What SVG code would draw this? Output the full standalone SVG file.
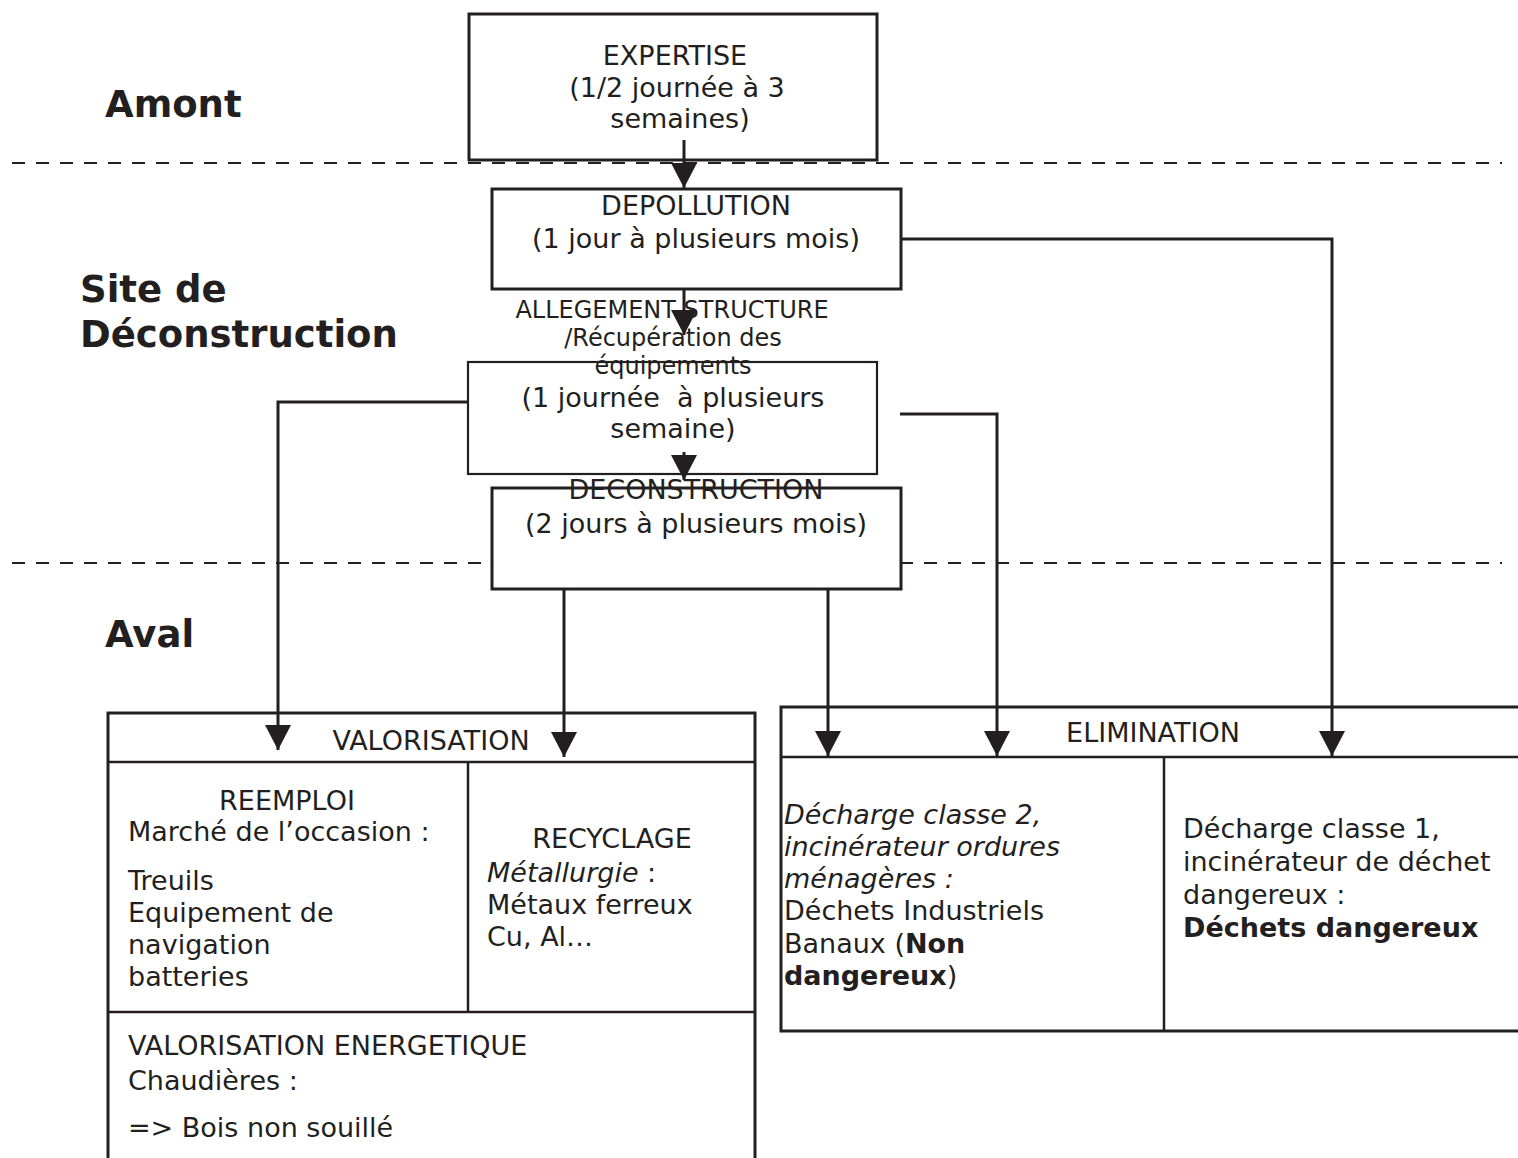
<svg xmlns="http://www.w3.org/2000/svg" width="1518" height="1158" viewBox="0 0 1518 1158">
  <style>
    text { font-family: "DejaVu Sans", Verdana, sans-serif; fill: #231f20; }
    .t { font-size: 27px; }
    .s { font-size: 24px; }
    .zone { font-size: 37px; font-weight: bold; }
    .c { text-anchor: middle; }
    .b { font-weight: bold; }
    .i { font-style: italic; }
    .box { fill: #ffffff; stroke: #231f20; stroke-width: 3; }
    .thin { stroke-width: 2.2; }
    .rule { fill: none; stroke: #231f20; stroke-width: 2.5; }
    .sep { fill: none; stroke: #231f20; stroke-width: 2; stroke-dasharray: 13 11; }
    .link { fill: none; stroke: #231f20; stroke-width: 3; marker-end: url(#head); }
  </style>
  <defs>
    <marker id="head" markerUnits="userSpaceOnUse" markerWidth="26" markerHeight="26" refX="25" refY="13" orient="auto" viewBox="0 0 26 26">
      <path d="M0,0 L25,13 L0,26 Z" fill="#231f20"/>
    </marker>
  </defs>

  <rect width="1518" height="1158" fill="#ffffff"/>

  <!-- zone separators and zone labels -->
  <g id="zones">
    <line class="sep" x1="12" y1="163" x2="1502" y2="163"/>
    <line class="sep" x1="12" y1="563" x2="1502" y2="563"/>
    <text class="zone" x="105" y="117">Amont</text>
    <text class="zone" x="80" y="302">Site de</text>
    <text class="zone" x="80" y="347">Déconstruction</text>
    <text class="zone" x="105" y="647">Aval</text>
  </g>

  <g id="expertise">
    <rect class="box" x="469" y="14" width="408" height="146"/>
    <text class="t c" x="675" y="65">EXPERTISE</text>
    <text class="t c" x="677" y="97">(1/2 journée à 3</text>
    <text class="t c" x="680" y="128">semaines)</text>
  </g>

  <g id="depollution">
    <rect class="box" x="492" y="189" width="409" height="100"/>
    <text class="t c" x="696" y="215">DEPOLLUTION</text>
    <text class="t c" x="696" y="248">(1 jour à plusieurs mois)</text>
  </g>

  <g id="allegement">
    <rect class="box thin" x="468" y="362" width="409" height="112"/>
    <text class="s c" x="672" y="318">ALLEGEMENT STRUCTURE</text>
    <text class="s c" x="673" y="346">/Récupération des</text>
    <text class="s c" x="673" y="374">équipements</text>
    <text class="t c" x="673" y="407" xml:space="preserve">(1 journée  à plusieurs</text>
    <text class="t c" x="673" y="438">semaine)</text>
  </g>

  <g id="deconstruction">
    <rect class="box" x="492" y="488" width="409" height="101"/>
    <text class="t c" x="696" y="499">DECONSTRUCTION</text>
    <text class="t c" x="696" y="533">(2 jours à plusieurs mois)</text>
  </g>

  <g id="valorisation">
    <rect class="box" x="108" y="713" width="647" height="470"/>
    <line class="rule" x1="108" y1="762" x2="755" y2="762"/>
    <line class="rule" x1="468" y1="762" x2="468" y2="1012"/>
    <line class="rule" x1="108" y1="1012" x2="755" y2="1012"/>
    <text class="t c" x="431" y="750">VALORISATION</text>
    <text class="t c" x="287" y="810">REEMPLOI</text>
    <text class="t" x="128" y="841">Marché de l’occasion :</text>
    <text class="t" x="128" y="890">Treuils</text>
    <text class="t" x="128" y="922">Equipement de</text>
    <text class="t" x="128" y="954">navigation</text>
    <text class="t" x="128" y="986">batteries</text>
    <text class="t c" x="612" y="848">RECYCLAGE</text>
    <text class="t" x="487" y="882"><tspan class="i">Métallurgie</tspan> :</text>
    <text class="t" x="487" y="914">Métaux ferreux</text>
    <text class="t" x="487" y="946">Cu, Al…</text>
    <text class="t" x="128" y="1055">VALORISATION ENERGETIQUE</text>
    <text class="t" x="128" y="1090">Chaudières :</text>
    <text class="t" x="128" y="1137">=&gt; Bois non souillé</text>
  </g>

  <g id="elimination">
    <rect class="box" x="781" y="707" width="760" height="324"/>
    <line class="rule" x1="781" y1="757" x2="1530" y2="757"/>
    <line class="rule" x1="1164" y1="757" x2="1164" y2="1031"/>
    <text class="t c" x="1153" y="742">ELIMINATION</text>
    <text class="t i" x="784" y="824">Décharge classe 2,</text>
    <text class="t i" x="784" y="856">incinérateur ordures</text>
    <text class="t i" x="784" y="888">ménagères :</text>
    <text class="t" x="784" y="920">Déchets Industriels</text>
    <text class="t" x="784" y="953">Banaux (<tspan class="b">Non</tspan></text>
    <text class="t" x="784" y="985"><tspan class="b">dangereux</tspan>)</text>
    <text class="t" x="1183" y="838">Décharge classe 1,</text>
    <text class="t" x="1183" y="871">incinérateur de déchet</text>
    <text class="t" x="1183" y="904">dangereux :</text>
    <text class="t b" x="1183" y="937">Déchets dangereux</text>
  </g>

  <!-- flow connectors -->
  <g id="connectors">
    <path class="link" d="M684,140 V188"/>
    <path class="link" d="M684,289 V335"/>
    <path class="link" d="M684,452 V480"/>
    <path class="link" d="M468,402 H278 V750"/>
    <path class="link" d="M564,589 V757"/>
    <path class="link" d="M828,589 V756"/>
    <path class="link" d="M900,414 H997 V756"/>
    <path class="link" d="M901,239 H1332 V756"/>
  </g>
</svg>
